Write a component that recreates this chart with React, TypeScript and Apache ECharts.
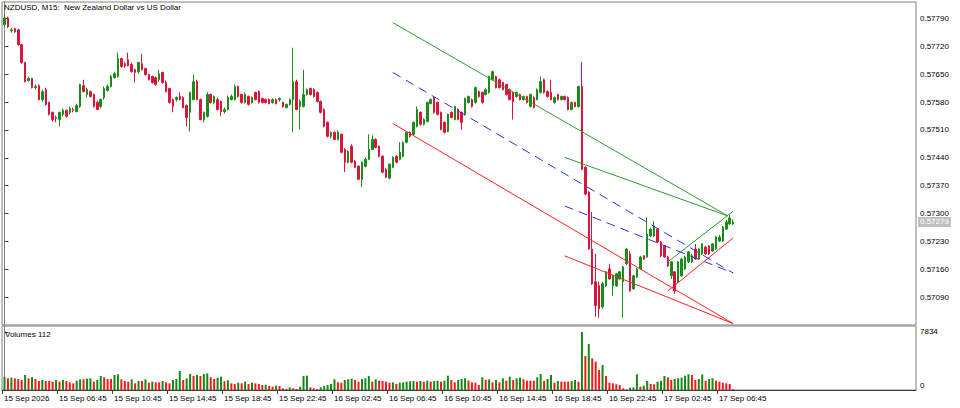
import React, { useEffect, useRef } from "react";
import * as echarts from "echarts";

const FONT = "'Liberation Sans', Arial, sans-serif";

const opens = [
  0.57774,0.57791,0.57759,0.57764,0.57761,0.57724,0.57679,0.57634,0.57639,0.57616,
  0.57621,0.57586,0.57611,0.57579,0.57554,0.57541,0.57536,0.57549,0.57559,0.57554,
  0.57561,0.57556,0.57569,0.57621,0.57599,0.57606,0.57599,0.57579,0.57569,0.57591,
  0.57609,0.57619,0.57641,0.57644,0.57689,0.57676,0.57686,0.57674,0.57661,0.57656,
  0.57676,0.57664,0.57649,0.57644,0.57641,0.57636,0.57654,0.57629,0.57614,0.57586,
  0.57586,0.57594,0.57591,0.57571,0.57554,0.57586,0.57631,0.57586,0.57536,0.57544,
  0.57599,0.57579,0.57586,0.57581,0.57556,0.57561,0.57586,0.57586,0.57619,0.57599,
  0.57579,0.57594,0.57579,0.57604,0.57606,0.57589,0.57586,0.57586,0.57579,0.57586,
  0.57586,0.57579,0.57566,0.57574,0.57586,0.57631,0.57569,0.57569,0.57599,0.57614,
  0.57611,0.57604,0.57581,0.57561,0.57529,0.57494,0.57504,0.57486,0.57499,0.57461,
  0.57429,0.57469,0.57431,0.57419,0.57386,0.57419,0.57436,0.57461,0.57486,0.57469,
  0.57444,0.57411,0.57389,0.57416,0.57444,0.57436,0.57444,0.57479,0.57504,0.57499,
  0.57519,0.57554,0.57524,0.57531,0.57576,0.57591,0.57579,0.57554,0.57529,0.57506,
  0.57554,0.57536,0.57561,0.57554,0.57549,0.57579,0.57586,0.57579,0.57606,0.57604,
  0.57599,0.57604,0.57636,0.57644,0.57636,0.57629,0.57624,0.57611,0.57604,0.57594,
  0.57599,0.57586,0.57594,0.57569,0.57591,0.57586,0.57604,0.57636,0.57606,0.57604,
  0.57579,0.57599,0.57586,0.57594,0.57591,0.57561,0.57579,0.57569,0.57619,0.57416,
  0.57354,0.57211,0.57129,0.57119,0.57066,0.57119,0.57161,0.57119,0.57119,0.57136,
  0.57129,0.57174,0.57199,0.57111,0.57141,0.57161,0.57194,0.57191,0.57244,0.57244,
  0.57261,0.57229,0.57219,0.57191,0.57144,0.57154,0.57129,0.57144,0.57161,0.57179,
  0.57179,0.57211,0.57186,0.57199,0.57216,0.57219,0.57206,0.57211,0.57231,0.57231,
  0.57261,0.57274,0.57274,
];

const highs = [
  0.57799,0.57794,0.57766,0.57766,0.57764,0.57726,0.57681,0.57644,0.57641,0.57624,
  0.57624,0.57611,0.57616,0.57581,0.57556,0.57546,0.57556,0.57564,0.57561,0.57569,
  0.57566,0.57576,0.57626,0.57636,0.57616,0.57609,0.57601,0.57584,0.57589,0.57619,
  0.57624,0.57649,0.57656,0.57704,0.57691,0.57681,0.57704,0.57679,0.57664,0.57681,
  0.57701,0.57666,0.57651,0.57646,0.57644,0.57661,0.57656,0.57634,0.57616,0.57589,
  0.57594,0.57604,0.57594,0.57574,0.57606,0.57649,0.57636,0.57589,0.57556,0.57604,
  0.57601,0.57596,0.57591,0.57584,0.57566,0.57596,0.57599,0.57624,0.57621,0.57601,
  0.57604,0.57596,0.57594,0.57606,0.57609,0.57591,0.57589,0.57589,0.57589,0.57589,
  0.57591,0.57581,0.57576,0.57589,0.57716,0.57636,0.57586,0.57661,0.57614,0.57616,
  0.57614,0.57606,0.57584,0.57564,0.57531,0.57506,0.57506,0.57509,0.57501,0.57464,
  0.57459,0.57474,0.57434,0.57421,0.57431,0.57441,0.57499,0.57496,0.57489,0.57471,
  0.57446,0.57414,0.57426,0.57444,0.57446,0.57479,0.57481,0.57506,0.57506,0.57531,
  0.57569,0.57556,0.57539,0.57581,0.57589,0.57594,0.57581,0.57556,0.57531,0.57551,
  0.57556,0.57571,0.57564,0.57556,0.57591,0.57596,0.57589,0.57619,0.57609,0.57606,
  0.57614,0.57646,0.57659,0.57646,0.57639,0.57631,0.57626,0.57614,0.57606,0.57606,
  0.57601,0.57596,0.57596,0.57601,0.57594,0.57614,0.57644,0.57639,0.57609,0.57636,
  0.57594,0.57601,0.57596,0.57596,0.57594,0.57581,0.57581,0.57621,0.57681,0.57419,
  0.57356,0.57304,0.57199,0.57129,0.57129,0.57156,0.57174,0.57146,0.57151,0.57156,
  0.57169,0.57214,0.57206,0.57146,0.57164,0.57194,0.57196,0.57291,0.57264,0.57281,
  0.57264,0.57231,0.57221,0.57194,0.57181,0.57156,0.57181,0.57189,0.57194,0.57206,
  0.57199,0.57224,0.57214,0.57226,0.57219,0.57221,0.57226,0.57244,0.57246,0.57269,
  0.57284,0.57296,0.57286,
];

const lows = [
  0.57771,0.57766,0.57754,0.57754,0.57721,0.57676,0.57629,0.57631,0.57614,0.57611,
  0.57584,0.57581,0.57571,0.57546,0.57531,0.57529,0.57519,0.57544,0.57541,0.57549,
  0.57554,0.57554,0.57566,0.57604,0.57591,0.57591,0.57566,0.57559,0.57564,0.57586,
  0.57606,0.57616,0.57639,0.57641,0.57666,0.57666,0.57669,0.57654,0.57629,0.57651,
  0.57659,0.57646,0.57634,0.57626,0.57621,0.57631,0.57626,0.57604,0.57576,0.57554,
  0.57581,0.57584,0.57564,0.57519,0.57506,0.57584,0.57584,0.57534,0.57529,0.57541,
  0.57576,0.57574,0.57559,0.57544,0.57551,0.57559,0.57584,0.57584,0.57591,0.57576,
  0.57576,0.57571,0.57576,0.57584,0.57576,0.57576,0.57576,0.57574,0.57576,0.57574,
  0.57581,0.57566,0.57564,0.57571,0.57504,0.57559,0.57511,0.57566,0.57596,0.57596,
  0.57591,0.57579,0.57551,0.57516,0.57491,0.57489,0.57484,0.57484,0.57451,0.57404,
  0.57426,0.57426,0.57414,0.57384,0.57366,0.57416,0.57434,0.57459,0.57464,0.57441,
  0.57401,0.57389,0.57386,0.57414,0.57426,0.57434,0.57441,0.57476,0.57491,0.57496,
  0.57516,0.57521,0.57521,0.57529,0.57574,0.57551,0.57546,0.57509,0.57501,0.57504,
  0.57539,0.57534,0.57534,0.57511,0.57546,0.57576,0.57566,0.57576,0.57591,0.57576,
  0.57596,0.57601,0.57634,0.57614,0.57614,0.57609,0.57596,0.57584,0.57536,0.57591,
  0.57584,0.57584,0.57576,0.57566,0.57564,0.57584,0.57601,0.57601,0.57591,0.57584,
  0.57576,0.57584,0.57584,0.57584,0.57559,0.57559,0.57566,0.57566,0.57409,0.57346,
  0.57209,0.57121,0.57041,0.57039,0.57061,0.57116,0.57134,0.57094,0.57116,0.57134,
  0.57039,0.57171,0.57104,0.57109,0.57139,0.57159,0.57184,0.57189,0.57241,0.57241,
  0.57226,0.57191,0.57189,0.57166,0.57136,0.57099,0.57126,0.57141,0.57159,0.57176,
  0.57176,0.57184,0.57184,0.57196,0.57196,0.57196,0.57204,0.57209,0.57229,0.57229,
  0.57259,0.57271,0.57271,
];

const closes = [
  0.57791,0.57769,0.57761,0.57756,0.57724,0.57679,0.57631,0.57639,0.57616,0.57619,
  0.57586,0.57606,0.57574,0.57549,0.57536,0.57539,0.57554,0.57559,0.57544,0.57564,
  0.57559,0.57571,0.57624,0.57606,0.57611,0.57594,0.57569,0.57561,0.57586,0.57614,
  0.57619,0.57644,0.57651,0.57689,0.57669,0.57671,0.57671,0.57656,0.57654,0.57679,
  0.57661,0.57649,0.57636,0.57629,0.57624,0.57651,0.57629,0.57606,0.57579,0.57569,
  0.57591,0.57586,0.57566,0.57541,0.57604,0.57631,0.57586,0.57536,0.57554,0.57599,
  0.57579,0.57594,0.57561,0.57556,0.57561,0.57591,0.57594,0.57619,0.57594,0.57579,
  0.57599,0.57574,0.57591,0.57586,0.57579,0.57579,0.57579,0.57576,0.57586,0.57576,
  0.57589,0.57569,0.57574,0.57586,0.57631,0.57561,0.57581,0.57599,0.57611,0.57599,
  0.57594,0.57581,0.57554,0.57519,0.57494,0.57504,0.57486,0.57504,0.57454,0.57429,
  0.57456,0.57429,0.57416,0.57386,0.57429,0.57436,0.57461,0.57486,0.57466,0.57444,
  0.57404,0.57391,0.57424,0.57441,0.57429,0.57454,0.57479,0.57504,0.57494,0.57529,
  0.57561,0.57524,0.57536,0.57579,0.57586,0.57554,0.57549,0.57511,0.57504,0.57549,
  0.57541,0.57569,0.57536,0.57529,0.57589,0.57594,0.57569,0.57616,0.57594,0.57579,
  0.57611,0.57644,0.57656,0.57616,0.57616,0.57611,0.57599,0.57586,0.57581,0.57604,
  0.57586,0.57594,0.57579,0.57599,0.57566,0.57611,0.57631,0.57604,0.57594,0.57586,
  0.57591,0.57586,0.57594,0.57586,0.57561,0.57579,0.57569,0.57619,0.57411,0.57349,
  0.57211,0.57124,0.57069,0.57061,0.57124,0.57154,0.57136,0.57144,0.57149,0.57154,
  0.57166,0.57211,0.57106,0.57144,0.57161,0.57191,0.57186,0.57249,0.57261,0.57269,
  0.57229,0.57194,0.57191,0.57169,0.57179,0.57106,0.57179,0.57186,0.57191,0.57204,
  0.57194,0.57186,0.57211,0.57224,0.57199,0.57199,0.57224,0.57241,0.57241,0.57266,
  0.57279,0.57289,0.57279,
];

const volumes = [
  1800,1575,1665,1575,1485,1350,2025,1575,1710,1485,
  1215,1350,1215,1215,1125,1350,1125,1350,1215,1035,
  900,1260,1440,1440,1530,1575,1125,1350,1890,1710,
  1485,1485,2025,2115,1440,1215,1125,1440,900,1215,
  1215,1440,990,1125,1035,1035,1215,1035,900,1350,
  1485,2565,1350,1575,2160,1890,2025,1890,2160,2250,
  1710,1485,1665,1800,1170,1305,900,810,990,900,
  1125,810,990,900,810,675,720,540,450,585,
  540,225,135,360,225,135,450,1890,1935,360,
  225,135,360,540,675,810,1440,1035,990,1350,
  1440,1530,1350,1125,1485,1575,1890,1125,1440,1260,
  1215,1125,990,1035,810,990,1035,1125,1170,1215,
  1125,1215,1125,1260,1125,1215,1260,1125,1260,1935,
  1350,1035,1350,1485,1575,1260,1035,990,
  675,1710,1350,1440,1035,1350,1035,1575,1260,1800,
  1350,1575,1665,1440,1260,1260,1260,1710,2160,1215,
  1485,2025,990,1215,1125,1125,1125,1215,1350,1125,
  7834,4590,6210,4275,3825,2700,3375,1890,990,900,
  765,675,225,90,315,360,2115,450,585,1215,
  810,765,1125,1215,1890,1710,1350,1485,1575,1665,
  1935,2115,2025,1350,1485,2115,1260,1485,1575,1260,
  1125,990,900,810,112,
];

const timeLabels = [
  "15 Sep 2026", "15 Sep 06:45", "15 Sep 10:45", "15 Sep 14:45", "15 Sep 18:45",
  "15 Sep 22:45", "16 Sep 02:45", "16 Sep 06:45", "16 Sep 10:45", "16 Sep 14:45",
  "16 Sep 18:45", "16 Sep 22:45", "17 Sep 02:45", "17 Sep 06:45",
];
const priceTicks = [0.5709, 0.5716, 0.5723, 0.573, 0.5737, 0.5744, 0.5751, 0.5758, 0.5765, 0.5772, 0.5779];
const volumeTicks = [0, 7834];
const lastPrice = 0.57279;

// trend lines as [bar index, price] pairs
const greenLines = [
  [[113, 0.57779], [210.5, 0.57294]],
  [[163, 0.57441], [210.5, 0.57294]],
  [[193, 0.57179], [212, 0.57306]],
];
const blueLines = [
  [[113, 0.57654], [212, 0.57151]],
  [[163, 0.57319], [212, 0.57151]],
];
const redLines = [
  [[113, 0.57526], [212, 0.57024]],
  [[163, 0.57194], [212, 0.57024]],
  [[193, 0.57106], [212, 0.57239]],
];

const X_MIN = -0.73;
const X_MAX = 265.2;
const Y_MIN = 0.570205;
const Y_MAX = 0.578309;

export default function App() {
  const ref = useRef<HTMLDivElement>(null);
  useEffect(() => {
    if (!ref.current) return;
    const chart = echarts.init(ref.current, null, { renderer: "svg" });
    const candleData = opens.map((o, i) => [i, o, closes[i], lows[i], highs[i]]);
    const volData = volumes.map((v, i) => ({
      value: [i, v],
      itemStyle: { color: i === 0 || v > volumes[i - 1] ? "#128a12" : "#f21a1a" },
    }));
    const mkLines = (segs: number[][][], color: string, type: any) =>
      segs.map((seg) => ({
        type: "line",
        xAxisIndex: 0,
        yAxisIndex: 0,
        data: seg,
        symbol: "none",
        silent: true,
        z: 5,
        lineStyle: { color, width: 1, type },
      }));
    const labelStyle = { fontFamily: FONT, fontSize: 8, color: "#000" };
    chart.setOption({
      animation: false,
      backgroundColor: "#ffffff",
      title: [
        {
          text: "NZDUSD, M15:\u00a0 New Zealand Dollar vs US Dollar",
          left: 4,
          top: 3,
          padding: 0,
          textStyle: { ...labelStyle, fontWeight: "normal" },
        },
        {
          text: "Volumes " + volumes[volumes.length - 1],
          left: 5,
          top: 330,
          padding: 0,
          textStyle: { ...labelStyle, fontWeight: "normal" },
        },
      ],
      grid: [
        { left: 2, top: 2, width: 914, height: 323, show: true, borderColor: "#808080", borderWidth: 1 },
        { left: 2, top: 326, width: 914, height: 64, show: true, borderColor: "#808080", borderWidth: 1 },
      ],
      xAxis: [
        { type: "value", gridIndex: 0, min: X_MIN, max: X_MAX, show: false, splitLine: { show: false } },
        {
          type: "value",
          gridIndex: 1,
          min: X_MIN,
          max: X_MAX,
          splitLine: { show: false },
          axisLine: { show: true, lineStyle: { color: "#404040", width: 1 } },
          axisTick: {
            show: true,
            length: 4,
            customValues: timeLabels.map((_, k) => X_MIN + 16 * k),
            lineStyle: { color: "#404040" },
          },
          axisLabel: {
            ...labelStyle,
            customValues: timeLabels.map((_, k) => X_MIN + 16 * k),
            formatter: (v: number) => timeLabels[Math.round((v - X_MIN) / 16)] || "",
            align: "left",
            margin: 4,
            padding: [0, 0, 0, 2],
          },
        },
      ],
      yAxis: [
        {
          type: "value",
          gridIndex: 0,
          position: "right",
          min: Y_MIN,
          max: Y_MAX,
          splitLine: { show: false },
          axisLine: { show: true, lineStyle: { color: "#808080" } },
          axisTick: { show: true, length: 4, customValues: priceTicks, lineStyle: { color: "#404040" } },
          axisLabel: {
            ...labelStyle,
            customValues: priceTicks,
            formatter: (v: number) => v.toFixed(5),
            margin: 4,
          },
        },
        {
          type: "value",
          gridIndex: 0,
          position: "right",
          min: Y_MIN,
          max: Y_MAX,
          splitLine: { show: false },
          axisLine: { show: false },
          axisTick: { show: false },
          axisLabel: {
            fontFamily: FONT,
            fontSize: 8,
            color: "#ffffff",
            backgroundColor: "#c0c0c0",
            padding: [1, 2, 1, 2],
            customValues: [lastPrice],
            formatter: (v: number) => v.toFixed(5),
            margin: 2,
          },
        },
        {
          type: "value",
          gridIndex: 1,
          position: "right",
          min: 0,
          max: 8640,
          splitLine: { show: false },
          axisLine: { show: true, lineStyle: { color: "#808080" } },
          axisTick: { show: true, length: 4, customValues: volumeTicks, lineStyle: { color: "#404040" } },
          axisLabel: {
            ...labelStyle,
            customValues: volumeTicks,
            margin: 4,
            formatter: (v: number) => (v === 0 ? "{z|0}" : "{m|" + v + "}"),
            rich: {
              z: { ...labelStyle, padding: [0, 0, 10, 0] },
              m: { ...labelStyle },
            },
          },
        },
      ],
      series: [
        {
          type: "candlestick",
          xAxisIndex: 0,
          yAxisIndex: 0,
          data: candleData,
          encode: { x: 0, y: [1, 2, 3, 4] },
          barWidth: 2,
          z: 3,
          itemStyle: {
            color: "#1a8c1a",
            color0: "#dc143c",
            borderColor: "#1a8c1a",
            borderColor0: "#dc143c",
            borderColorDoji: "#1a8c1a",
            borderWidth: 1,
          },
          markLine: {
            silent: true,
            symbol: ["none", "none"],
            label: { show: false },
            lineStyle: { color: "#c0c0c0", type: "solid", width: 1 },
            data: [{ yAxis: lastPrice }],
          },
        },
        ...mkLines(greenLines, "#2f9a2f", "solid"),
        ...mkLines(blueLines, "#2f2fe0", [9, 6]),
        ...mkLines(redLines, "#ff2020", "solid"),
        {
          type: "bar",
          xAxisIndex: 1,
          yAxisIndex: 2,
          data: volData,
          barWidth: 2,
        },
      ],
    });
    return () => chart.dispose();
  }, []);
  return (
    <div
      ref={ref}
      style={{ position: "fixed", left: 0, top: 0, width: 960, height: 408, background: "#fff" }}
    />
  );
}
